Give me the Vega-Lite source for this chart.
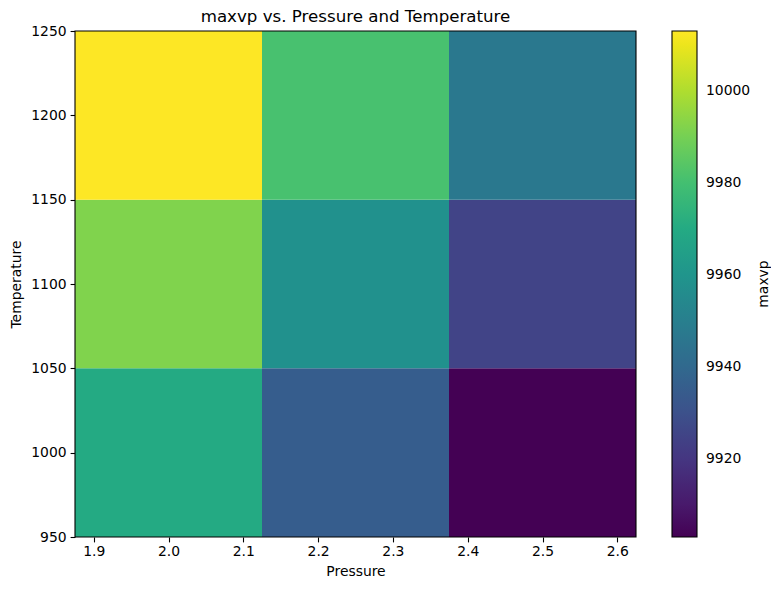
{
  "$schema": "https://vega.github.io/schema/vega-lite/v6.json",
  "width": 561,
  "height": 506,
  "padding": {"left": 9, "top": 9, "right": 0, "bottom": 0},
  "background": "white",
  "title": {"text": "maxvp vs. Pressure and Temperature", "font": "DejaVu Sans", "fontSize": 16.67, "fontWeight": "normal", "color": "black", "anchor": "middle", "offset": -2},
  "config": {"view": {"stroke": null}},
  "layer": [
    {
      "data": {
        "values": [
          {"p0": 1.875, "p1": 2.125, "t0": 950, "t1": 1050, "maxvp": 9970},
          {"p0": 2.125, "p1": 2.375, "t0": 950, "t1": 1050, "maxvp": 9935},
          {"p0": 2.375, "p1": 2.625, "t0": 950, "t1": 1050, "maxvp": 9903},
          {"p0": 1.875, "p1": 2.125, "t0": 1050, "t1": 1150, "maxvp": 9992},
          {"p0": 2.125, "p1": 2.375, "t0": 1050, "t1": 1150, "maxvp": 9958},
          {"p0": 2.375, "p1": 2.625, "t0": 1050, "t1": 1150, "maxvp": 9925},
          {"p0": 1.875, "p1": 2.125, "t0": 1150, "t1": 1250, "maxvp": 10013},
          {"p0": 2.125, "p1": 2.375, "t0": 1150, "t1": 1250, "maxvp": 9981},
          {"p0": 2.375, "p1": 2.625, "t0": 1150, "t1": 1250, "maxvp": 9947}
        ]
      },
      "mark": {"type": "rect", "stroke": null},
      "encoding": {
        "x": {
          "field": "p0", "type": "quantitative",
          "scale": {"domain": [1.875, 2.625], "nice": false, "zero": false},
          "axis": {"title": "Pressure", "values": [1.9, 2.0, 2.1, 2.2, 2.3, 2.4, 2.5, 2.6], "format": ".1f", "grid": false, "domain": false, "tickColor": "black", "tickSize": 4.9, "tickWidth": 1.1, "labelColor": "black", "labelFont": "DejaVu Sans", "labelFontSize": 13.9, "labelPadding": 3, "titleFont": "DejaVu Sans", "titleFontSize": 13.9, "titleFontWeight": "normal", "titleColor": "black", "titlePadding": 6}
        },
        "x2": {"field": "p1"},
        "y": {
          "field": "t0", "type": "quantitative",
          "scale": {"domain": [950, 1250], "nice": false, "zero": false},
          "axis": {"title": "Temperature", "values": [950, 1000, 1050, 1100, 1150, 1200, 1250], "format": "d", "grid": false, "domain": false, "tickColor": "black", "tickSize": 4.9, "tickWidth": 1.1, "labelColor": "black", "labelFont": "DejaVu Sans", "labelFontSize": 13.9, "labelPadding": 4, "titleFont": "DejaVu Sans", "titleFontSize": 13.9, "titleFontWeight": "normal", "titleColor": "black", "titlePadding": 7}
        },
        "y2": {"field": "t1"},
        "color": {
          "field": "maxvp", "type": "quantitative",
          "scale": {"scheme": "viridis", "domain": [9903, 10013], "nice": false, "zero": false},
          "legend": {
            "title": "maxvp",
            "type": "gradient",
            "orient": "none",
            "legendX": 597,
            "legendY": 0,
            "gradientLength": 506,
            "gradientThickness": 25,
            "gradientStrokeColor": "black",
            "gradientStrokeWidth": 1.1,
            "values": [9920, 9940, 9960, 9980, 10000],
            "format": "d",
            "labelFont": "DejaVu Sans",
            "labelFontSize": 13.9,
            "labelColor": "black",
            "labelOffset": 9,
            "labelOverlap": false,
            "titleOrient": "right",
            "titleAnchor": "middle",
            "titleFont": "DejaVu Sans",
            "titleFontSize": 13.9,
            "titleFontWeight": "normal",
            "titleColor": "black",
            "titlePadding": 21,
            "encoding": {"title": {"angle": {"value": -90}}}
          }
        }
      }
    },
    {
      "data": {"values": [{"p0": 1.875, "p1": 2.625, "t0": 950, "t1": 1250}]},
      "mark": {"type": "rect", "fill": null, "stroke": "black", "strokeWidth": 1.1},
      "encoding": {
        "x": {"field": "p0", "type": "quantitative"},
        "x2": {"field": "p1"},
        "y": {"field": "t0", "type": "quantitative"},
        "y2": {"field": "t1"}
      }
    }
  ]
}
